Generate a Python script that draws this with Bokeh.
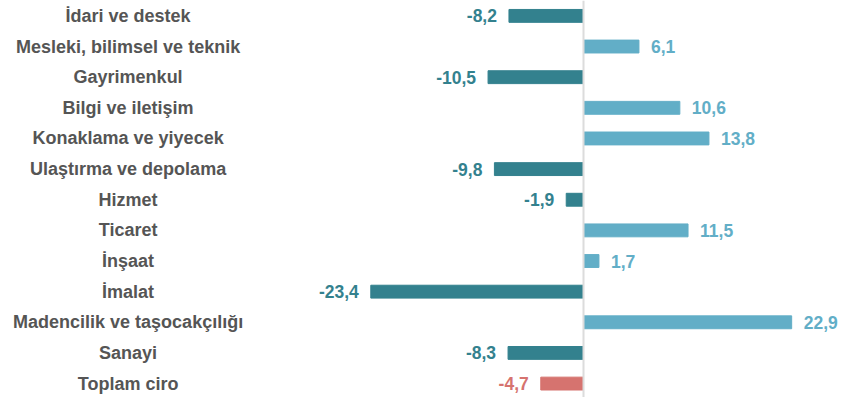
from bokeh.plotting import figure
from bokeh.models import ColumnDataSource, Range1d, Span
from bokeh.core.properties import value
from bokeh.embed import file_html
from bokeh.resources import INLINE

categories = ["İdari ve destek", "Mesleki, bilimsel ve teknik", "Gayrimenkul",
              "Bilgi ve iletişim", "Konaklama ve yiyecek", "Ulaştırma ve depolama",
              "Hizmet", "Ticaret", "İnşaat", "İmalat",
              "Madencilik ve taşocakçılığı", "Sanayi", "Toplam ciro"]
values = [-8.2, 6.1, -10.5, 10.6, 13.8, -9.8, -1.9, 11.5, 1.7, -23.4, 22.9, -8.3, -4.7]

NEG = "#33818e"
POS = "#62aec7"
TOTAL = "#d6736f"
LABEL = "#555555"
FONT = value("Liberation Sans")

W, H = 843, 397
zero_px = 583
px_per_unit = 9.09
row_px = 30.64
top_px = 15.4

x0 = -zero_px / px_per_unit
x1 = (W - zero_px) / px_per_unit
y_top = -top_px / row_px
y_bot = y_top + H / row_px

n = len(categories)
colors = []
for i, v in enumerate(values):
    if i == n - 1:
        colors.append(TOTAL)
    elif v < 0:
        colors.append(NEG)
    else:
        colors.append(POS)

idx = list(range(n))
labels = [("%.1f" % v).replace(".", ",") for v in values]
src = ColumnDataSource(dict(y=idx, v=values, c=colors, cat=categories, lbl=labels))

p = figure(width=W, height=H, output_backend="svg", toolbar_location=None,
           x_range=Range1d(x0, x1), y_range=Range1d(y_bot, y_top),
           min_border=0, outline_line_color=None)
p.axis.visible = False
p.grid.visible = False
p.background_fill_color = "white"

p.hbar(y="y", left=0, right="v", height=0.42, color="c", source=src)
p.add_layout(Span(location=0, dimension="height", line_color="#dcdcdc", line_width=2))

pos_idx = [i for i in idx if values[i] >= 0]
neg_idx = [i for i in idx if values[i] < 0]

def sub(ids):
    return ColumnDataSource(dict(y=ids, v=[values[i] for i in ids],
                                 c=[colors[i] for i in ids],
                                 t=[labels[i] for i in ids]))

p.text(x="v", y="y", text="t", source=sub(pos_idx), text_color="c",
       text_align="left", text_baseline="middle", x_offset=12,
       text_font=FONT, text_font_style="bold", text_font_size="17.5px")
p.text(x="v", y="y", text="t", source=sub(neg_idx), text_color="c",
       text_align="right", text_baseline="middle", x_offset=-12,
       text_font=FONT, text_font_style="bold", text_font_size="17.5px")

label_x = x0 + 127.6 / px_per_unit
p.text(x=label_x, y="y", text="cat", source=src, text_color=LABEL,
       text_align="center", text_baseline="middle",
       text_font=FONT, text_font_style="bold", text_font_size="18px")

open("out.html", "w").write(file_html(p, INLINE))
